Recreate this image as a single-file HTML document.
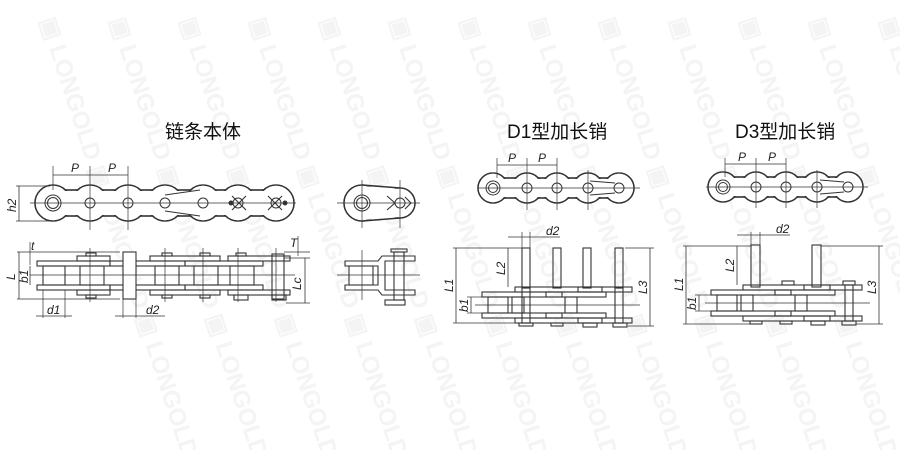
<!DOCTYPE html>
<html><head><meta charset="utf-8"><style>
html,body{margin:0;padding:0;background:#fff;width:900px;height:450px;overflow:hidden;}
svg{display:block;}
.t{font-family:"Liberation Sans","Noto Sans CJK SC",sans-serif;}
.i{font-family:"Liberation Sans",sans-serif;font-style:italic;font-size:12px;fill:#222;}
.wm{font-family:"Liberation Sans",sans-serif;font-weight:bold;font-size:24px;fill:#f4f4f4;}
</style></head><body>
<svg width="900" height="450" viewBox="0 0 900 450" xmlns="http://www.w3.org/2000/svg">
<g>
<text class="wm" transform="translate(40,20) rotate(72)">▣ LONGOLD ▣ LONGOLD ▣ LONGOLD</text>
<text class="wm" transform="translate(110,20) rotate(72)">▣ LONGOLD ▣ LONGOLD ▣ LONGOLD</text>
<text class="wm" transform="translate(180,20) rotate(72)">▣ LONGOLD ▣ LONGOLD ▣ LONGOLD</text>
<text class="wm" transform="translate(250,20) rotate(72)">▣ LONGOLD ▣ LONGOLD ▣ LONGOLD</text>
<text class="wm" transform="translate(320,20) rotate(72)">▣ LONGOLD ▣ LONGOLD ▣ LONGOLD</text>
<text class="wm" transform="translate(390,20) rotate(72)">▣ LONGOLD ▣ LONGOLD ▣ LONGOLD</text>
<text class="wm" transform="translate(460,20) rotate(72)">▣ LONGOLD ▣ LONGOLD ▣ LONGOLD</text>
<text class="wm" transform="translate(530,20) rotate(72)">▣ LONGOLD ▣ LONGOLD ▣ LONGOLD</text>
<text class="wm" transform="translate(600,20) rotate(72)">▣ LONGOLD ▣ LONGOLD ▣ LONGOLD</text>
<text class="wm" transform="translate(670,20) rotate(72)">▣ LONGOLD ▣ LONGOLD ▣ LONGOLD</text>
<text class="wm" transform="translate(740,20) rotate(72)">▣ LONGOLD ▣ LONGOLD ▣ LONGOLD</text>
<text class="wm" transform="translate(810,20) rotate(72)">▣ LONGOLD ▣ LONGOLD ▣ LONGOLD</text>
<text class="wm" transform="translate(880,20) rotate(72)">▣ LONGOLD ▣ LONGOLD ▣ LONGOLD</text>
</g>

<text class="t" x="165" y="138" font-size="19" fill="#111">链条本体</text>
<text class="t" x="507" y="138" font-size="19" fill="#111">D1型加长销</text>
<text class="t" x="735" y="138" font-size="19" fill="#111">D3型加长销</text>

<g fill="none" stroke="#333" stroke-width="1">
<!-- ===== LEFT TOP VIEW ===== -->
<g stroke-width="1.6" stroke="#333">
<rect x="53" y="190" width="223" height="26"/>
<circle cx="53" cy="203" r="18"/><circle cx="90" cy="203" r="18"/><circle cx="128" cy="203" r="18"/><circle cx="165" cy="203" r="18"/><circle cx="203" cy="203" r="18"/><circle cx="238" cy="203" r="18"/><circle cx="276" cy="203" r="18"/>
</g>
<g fill="#fff" stroke="none">
<rect x="53" y="191" width="223" height="24"/>
<circle cx="53" cy="203" r="17.2"/><circle cx="90" cy="203" r="17.2"/><circle cx="128" cy="203" r="17.2"/><circle cx="165" cy="203" r="17.2"/><circle cx="203" cy="203" r="17.2"/><circle cx="238" cy="203" r="17.2"/><circle cx="276" cy="203" r="17.2"/>
</g>
<circle cx="53" cy="203" r="8"/><circle cx="53" cy="203" r="5.5"/>
<circle cx="90" cy="203" r="5"/><circle cx="128" cy="203" r="5"/><circle cx="165" cy="203" r="5"/><circle cx="203" cy="203" r="5"/><circle cx="238" cy="203" r="5"/><circle cx="276" cy="203" r="5"/>
<path d="M165,195 L200,190 M165,211 L200,216"/>
<path d="M232,196 L246,210 M246,196 L232,210 M268,196 L282,210 M282,196 L268,210" stroke-width="1.1"/>
<circle cx="231" cy="203" r="2" fill="#333"/><circle cx="285" cy="203" r="2" fill="#333"/>
<line x1="30" y1="203" x2="296" y2="203" stroke-width="0.8"/>
<line x1="53" y1="166" x2="53" y2="190" stroke-width="0.7"/><line x1="90" y1="166" x2="90" y2="230" stroke-width="0.7"/><line x1="128" y1="166" x2="128" y2="230" stroke-width="0.7"/>
<line x1="53" y1="175" x2="128" y2="175" stroke-width="0.8"/>
<line x1="16" y1="186" x2="50" y2="186" stroke-width="0.7"/><line x1="16" y1="221" x2="50" y2="221" stroke-width="0.7"/>
<line x1="19" y1="186" x2="19" y2="221" stroke-width="0.8"/>

<!-- ===== LEFT SIDE VIEW ===== -->
<g stroke-width="1.1">
<rect x="37" y="261" width="73" height="5"/><rect x="37" y="285" width="73" height="5"/>
<rect x="77" y="256" width="33" height="5"/><rect x="77" y="290" width="33" height="5"/>
<rect x="110" y="261" width="75" height="5"/><rect x="110" y="285" width="75" height="5"/>
<rect x="150" y="256" width="70" height="5"/><rect x="150" y="290" width="70" height="5"/>
<rect x="185" y="261" width="78" height="5"/><rect x="185" y="285" width="78" height="5"/>
<rect x="228" y="256" width="62" height="5"/><rect x="228" y="290" width="62" height="5"/>
<rect x="43" y="266" width="22" height="19"/><rect x="80" y="266" width="24" height="19"/><rect x="155" y="266" width="24" height="19"/><rect x="194" y="266" width="24" height="19"/><rect x="230" y="266" width="24" height="19"/>
<rect x="123" y="252" width="13" height="47" fill="#fff"/>
<rect x="272" y="254" width="12" height="45"/>
<rect x="86" y="253" width="10" height="3"/><rect x="86" y="295" width="10" height="3"/>
<rect x="162" y="253" width="10" height="3"/><rect x="162" y="295" width="10" height="3"/>
<rect x="200" y="253" width="10" height="3"/><rect x="200" y="295" width="10" height="3"/>
<rect x="236" y="253" width="10" height="3"/><rect x="234" y="295" width="14" height="5"/><rect x="272" y="295" width="14" height="5"/>
</g>
<line x1="30" y1="275" x2="295" y2="275" stroke-width="0.7"/>
<line x1="90" y1="248" x2="90" y2="302" stroke-width="0.7"/><line x1="165" y1="248" x2="165" y2="302" stroke-width="0.7"/><line x1="203" y1="248" x2="203" y2="302" stroke-width="0.7"/><line x1="238" y1="248" x2="238" y2="302" stroke-width="0.7"/><line x1="276" y1="248" x2="276" y2="302" stroke-width="0.7"/>
<line x1="17" y1="252" x2="120" y2="252" stroke-width="0.7"/><line x1="17" y1="299" x2="120" y2="299" stroke-width="0.7"/>
<line x1="19" y1="252" x2="19" y2="299" stroke-width="0.8"/>
<line x1="30" y1="242" x2="30" y2="265" stroke-width="0.7"/>
<line x1="30" y1="266" x2="30" y2="285" stroke-width="0.8"/>
<line x1="43" y1="290" x2="43" y2="318" stroke-width="0.7"/><line x1="65" y1="290" x2="65" y2="318" stroke-width="0.7"/><line x1="36" y1="316" x2="72" y2="316" stroke-width="0.8"/>
<line x1="123" y1="299" x2="123" y2="318" stroke-width="0.7"/><line x1="136" y1="299" x2="136" y2="318" stroke-width="0.7"/><line x1="115" y1="316" x2="165" y2="316" stroke-width="0.8"/>
<line x1="298" y1="236" x2="298" y2="256" stroke-width="0.7"/><line x1="284" y1="252" x2="310" y2="252" stroke-width="0.7"/><line x1="284" y1="258" x2="310" y2="258" stroke-width="0.7"/>
<line x1="305" y1="258" x2="305" y2="303" stroke-width="0.8"/><line x1="286" y1="303" x2="310" y2="303" stroke-width="0.7"/>

<!-- ===== MIDDLE SMALL ===== -->
<g stroke-width="1.6"><circle cx="362" cy="203" r="18"/><circle cx="400" cy="203" r="15"/><path d="M362,185 L400,188 M362,221 L400,218"/></g>
<g fill="#fff" stroke="none"><circle cx="362" cy="203" r="17.2"/><circle cx="400" cy="203" r="14.2"/><path d="M362,186 L400,189 L400,217 L362,220Z"/></g>
<circle cx="362" cy="203" r="8"/><circle cx="362" cy="203" r="5.5"/><circle cx="400" cy="203" r="5"/>
<path d="M387,196 L395,203 L387,210 M405,197 L411,203 L405,209" stroke-width="1.1"/>
<line x1="337" y1="203" x2="420" y2="203" stroke-width="0.7"/><line x1="362" y1="180" x2="362" y2="228" stroke-width="0.7"/><line x1="400" y1="180" x2="400" y2="228" stroke-width="0.7"/>
<g stroke-width="1.1">
<path d="M345,261 H378 L382,256 H415 V261 H385 V290 H415 V295 H382 L378,290 H345 V285 H378 V266 H345 Z"/>
<rect x="349" y="266" width="24" height="19"/>
<rect x="394" y="252" width="10" height="48"/><rect x="391" y="249" width="16" height="3"/><rect x="385" y="300" width="20" height="5"/>
</g>
<line x1="337" y1="275" x2="420" y2="275" stroke-width="0.7"/><line x1="362" y1="250" x2="362" y2="300" stroke-width="0.7"/>

<!-- ===== D1 TOP ===== -->
<g stroke-width="1.6"><rect x="493" y="178" width="126" height="20"/>
<circle cx="493" cy="188" r="15"/><circle cx="527" cy="188" r="15"/><circle cx="557" cy="188" r="15"/><circle cx="588" cy="188" r="15"/><circle cx="619" cy="188" r="15"/></g>
<g fill="#fff" stroke="none"><rect x="493" y="179" width="126" height="18"/>
<circle cx="493" cy="188" r="14.2"/><circle cx="527" cy="188" r="14.2"/><circle cx="557" cy="188" r="14.2"/><circle cx="588" cy="188" r="14.2"/><circle cx="619" cy="188" r="14.2"/></g>
<circle cx="493" cy="188" r="7"/><circle cx="493" cy="188" r="4.5"/><circle cx="527" cy="188" r="5"/><circle cx="557" cy="188" r="5"/><circle cx="588" cy="188" r="5"/><circle cx="619" cy="188" r="5"/>
<path d="M590,181 L615,183 M590,195 L615,193"/>
<line x1="478" y1="188" x2="640" y2="188" stroke-width="0.7"/>
<line x1="497" y1="158" x2="497" y2="178" stroke-width="0.7"/><line x1="527" y1="158" x2="527" y2="210" stroke-width="0.7"/><line x1="557" y1="158" x2="557" y2="210" stroke-width="0.7"/><line x1="588" y1="170" x2="588" y2="210" stroke-width="0.7"/>
<line x1="497" y1="165" x2="557" y2="165" stroke-width="0.8"/>

<!-- ===== D1 SIDE ===== -->
<g stroke-width="1.1">
<rect x="522" y="248" width="8" height="40"/><rect x="553" y="248" width="8" height="40"/><rect x="583" y="248" width="8" height="40"/><rect x="615" y="248" width="8" height="40"/>
<rect x="515" y="287" width="87" height="5"/><rect x="515" y="318" width="87" height="5"/>
<rect x="482" y="292" width="80" height="5"/><rect x="482" y="313" width="80" height="5"/>
<rect x="546" y="292" width="60" height="5"/><rect x="546" y="313" width="60" height="5"/>
<rect x="578" y="287" width="54" height="5"/><rect x="578" y="318" width="54" height="5"/>
<rect x="488" y="297" width="20" height="16"/><rect x="512" y="297" width="12" height="16"/><rect x="565" y="297" width="12" height="16"/>
<rect x="519" y="323" width="14" height="3"/><rect x="551" y="323" width="12" height="3"/><rect x="583" y="323" width="14" height="4"/><rect x="613" y="323" width="14" height="4"/>
<rect x="522" y="288" width="8" height="35"/><rect x="615" y="288" width="8" height="35"/>
</g>
<line x1="475" y1="305" x2="640" y2="305" stroke-width="0.7"/>
<line x1="453" y1="248" x2="522" y2="248" stroke-width="0.7"/><line x1="453" y1="323" x2="520" y2="323" stroke-width="0.7"/>
<line x1="456" y1="248" x2="456" y2="323" stroke-width="0.8"/>
<line x1="508" y1="248" x2="508" y2="287" stroke-width="0.8"/>
<line x1="467" y1="297" x2="482" y2="297" stroke-width="0.7"/><line x1="467" y1="313" x2="482" y2="313" stroke-width="0.7"/><line x1="471" y1="297" x2="471" y2="313" stroke-width="0.8"/>
<line x1="522" y1="232" x2="522" y2="248" stroke-width="0.7"/><line x1="530" y1="232" x2="530" y2="248" stroke-width="0.7"/><line x1="508" y1="237" x2="560" y2="237" stroke-width="0.8"/>
<line x1="625" y1="248" x2="654" y2="248" stroke-width="0.7"/><line x1="628" y1="326" x2="654" y2="326" stroke-width="0.7"/><line x1="650" y1="248" x2="650" y2="326" stroke-width="0.8"/>

<!-- ===== D3 TOP ===== -->
<g stroke-width="1.6"><rect x="723" y="177" width="125" height="20"/>
<circle cx="723" cy="187" r="15"/><circle cx="756" cy="187" r="15"/><circle cx="786" cy="187" r="15"/><circle cx="817" cy="187" r="15"/><circle cx="848" cy="187" r="15"/></g>
<g fill="#fff" stroke="none"><rect x="723" y="178" width="125" height="18"/>
<circle cx="723" cy="187" r="14.2"/><circle cx="756" cy="187" r="14.2"/><circle cx="786" cy="187" r="14.2"/><circle cx="817" cy="187" r="14.2"/><circle cx="848" cy="187" r="14.2"/></g>
<circle cx="723" cy="187" r="7"/><circle cx="723" cy="187" r="4.5"/><circle cx="756" cy="187" r="5"/><circle cx="786" cy="187" r="5"/><circle cx="817" cy="187" r="5"/><circle cx="848" cy="187" r="5"/>
<path d="M820,180 L844,182 M820,194 L844,192"/>
<line x1="706" y1="187" x2="868" y2="187" stroke-width="0.7"/>
<line x1="725" y1="158" x2="725" y2="177" stroke-width="0.7"/><line x1="756" y1="158" x2="756" y2="208" stroke-width="0.7"/><line x1="786" y1="158" x2="786" y2="208" stroke-width="0.7"/><line x1="817" y1="170" x2="817" y2="208" stroke-width="0.7"/>
<line x1="725" y1="164" x2="786" y2="164" stroke-width="0.8"/>

<!-- ===== D3 SIDE ===== -->
<g stroke-width="1.1">
<rect x="751" y="245" width="9" height="42"/><rect x="812" y="245" width="9" height="42"/>
<rect x="743" y="285" width="87" height="5"/><rect x="743" y="316" width="87" height="5"/>
<rect x="711" y="290" width="80" height="5"/><rect x="711" y="311" width="80" height="5"/>
<rect x="775" y="290" width="60" height="5"/><rect x="775" y="311" width="60" height="5"/>
<rect x="804" y="285" width="58" height="5"/><rect x="804" y="316" width="58" height="5"/>
<rect x="717" y="295" width="20" height="16"/><rect x="741" y="295" width="12" height="16"/><rect x="795" y="295" width="12" height="16"/>
<rect x="782" y="281" width="12" height="4"/><rect x="843" y="281" width="12" height="4"/>
<rect x="750" y="321" width="12" height="3"/><rect x="780" y="321" width="12" height="3"/><rect x="811" y="321" width="14" height="4"/><rect x="842" y="321" width="14" height="4"/>
<rect x="845" y="285" width="8" height="36"/>
</g>
<line x1="705" y1="303" x2="870" y2="303" stroke-width="0.7"/>
<line x1="683" y1="246" x2="751" y2="246" stroke-width="0.7"/><line x1="683" y1="324" x2="750" y2="324" stroke-width="0.7"/>
<line x1="686" y1="246" x2="686" y2="324" stroke-width="0.8"/>
<line x1="737" y1="246" x2="737" y2="285" stroke-width="0.8"/>
<line x1="695" y1="295" x2="711" y2="295" stroke-width="0.7"/><line x1="695" y1="311" x2="711" y2="311" stroke-width="0.7"/><line x1="699" y1="295" x2="699" y2="311" stroke-width="0.8"/>
<line x1="751" y1="232" x2="751" y2="245" stroke-width="0.7"/><line x1="760" y1="232" x2="760" y2="245" stroke-width="0.7"/><line x1="737" y1="235" x2="790" y2="235" stroke-width="0.8"/>
<line x1="821" y1="246" x2="883" y2="246" stroke-width="0.7"/><line x1="856" y1="324" x2="883" y2="324" stroke-width="0.7"/><line x1="879" y1="246" x2="879" y2="324" stroke-width="0.8"/>
</g>

<text class="i" x="71" y="172">P</text><text class="i" x="108" y="172">P</text>
<text class="i" transform="translate(16,212) rotate(-90)">h2</text>
<text class="i" x="31" y="250" font-size="10">t</text>
<text class="i" transform="translate(15,280) rotate(-90)">L</text>
<text class="i" transform="translate(28,283) rotate(-90)">b1</text>
<text class="i" x="47" y="314">d1</text>
<text class="i" x="146" y="314">d2</text>
<text class="i" x="290" y="247" font-size="10">T</text>
<text class="i" transform="translate(301,290) rotate(-90)">Lc</text>
<text class="i" x="508" y="162">P</text><text class="i" x="538" y="162">P</text>
<text class="i" x="546" y="235">d2</text>
<text class="i" transform="translate(505,275) rotate(-90)">L2</text>
<text class="i" transform="translate(453,292) rotate(-90)">L1</text>
<text class="i" transform="translate(468,312) rotate(-90)">b1</text>
<text class="i" transform="translate(647,294) rotate(-90)">L3</text>
<text class="i" x="738" y="161">P</text><text class="i" x="768" y="161">P</text>
<text class="i" x="776" y="233">d2</text>
<text class="i" transform="translate(734,272) rotate(-90)">L2</text>
<text class="i" transform="translate(683,291) rotate(-90)">L1</text>
<text class="i" transform="translate(696,310) rotate(-90)">b1</text>
<text class="i" transform="translate(876,294) rotate(-90)">L3</text>
</svg>
</body></html>
